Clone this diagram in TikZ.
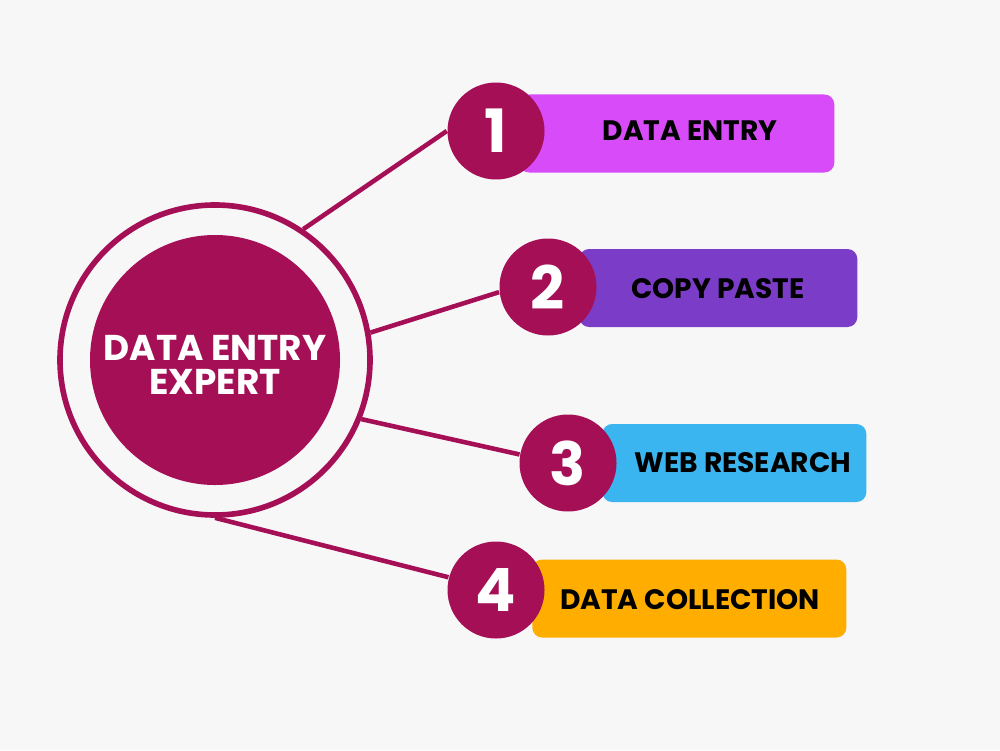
\documentclass[tikz,border=0pt]{standalone}
\usepackage{fontspec}
\setmainfont{Poppins}
\usetikzlibrary{positioning}
\definecolor{bor}{HTML}{A50F56}
\definecolor{hatter}{HTML}{F7F7F7}
\definecolor{lila}{HTML}{D84BF8}
\definecolor{ibolya}{HTML}{7B3DC8}
\definecolor{egkek}{HTML}{3BB5F0}
\definecolor{narancs}{HTML}{FFAE00}
\tikzset{
  gyuru/.style={circle,draw=bor,line width=1.6pt,minimum size=3.1cm,inner sep=0pt},
  mag/.style={circle,fill=bor,minimum size=2.5cm,inner sep=0pt},
  szam/.style={circle,fill=bor,minimum size=0.97cm,inner sep=0pt,text=white,
    font=\bfseries\fontsize{17}{17}\selectfont},
  doboz/.style={rounded corners=2.8pt,minimum height=0.78cm,inner sep=0pt,anchor=east},
  felirat/.style={font=\bfseries\fontsize{8}{9}\selectfont,text=black},
  vonal/.style={draw=bor,line width=1.3pt},
}
\begin{document}
\begin{tikzpicture}
  \useasboundingbox[fill=hatter] (0,0) rectangle (10,7.5);
  % kozepso kor
  \node[gyuru] (ring) at (2.15,3.9) {};
  \node[mag] (core) at (2.15,3.9) {};
  \node[text=white,align=center,font=\bfseries\fontsize{10.2}{9.6}\selectfont] (cim) at (2.15,3.85) {DATA ENTRY\\EXPERT};
  % dobozok
  \node[doboz,fill=lila,minimum width=3.15cm] (b1) at (8.35,6.165) {};
  \node[doboz,fill=ibolya,minimum width=2.78cm] (b2) at (8.58,4.62) {};
  \node[doboz,fill=egkek,minimum width=2.64cm] (b3) at (8.67,2.87) {};
  \node[doboz,fill=narancs,minimum width=3.14cm] (b4) at (8.47,1.515) {};
  \node[felirat] (t1) at (6.90,6.19) {DATA ENTRY};
  \node[felirat] (t2) at (7.18,4.61) {COPY PASTE};
  \node[felirat] (t3) at (7.43,2.87) {WEB RESEARCH};
  \node[felirat] (t4) at (6.90,1.50) {DATA COLLECTION};
  % szamok
  \node[szam] (n1) at (4.96,6.19) {1};
  \node[szam] (n2) at (5.48,4.63) {2};
  \node[szam] (n3) at (5.68,2.87) {3};
  \node[szam] (n4) at (4.96,1.60) {4};
  % osszekotok
  \draw[vonal] (ring.56) -- (n1.180);
  \draw[vonal] (ring.10) -- (n2.186);
  \draw[vonal] (ring.-22) -- (n3.170);
  \draw[vonal] (ring.-90) -- (n4.165);
\end{tikzpicture}
\end{document}
